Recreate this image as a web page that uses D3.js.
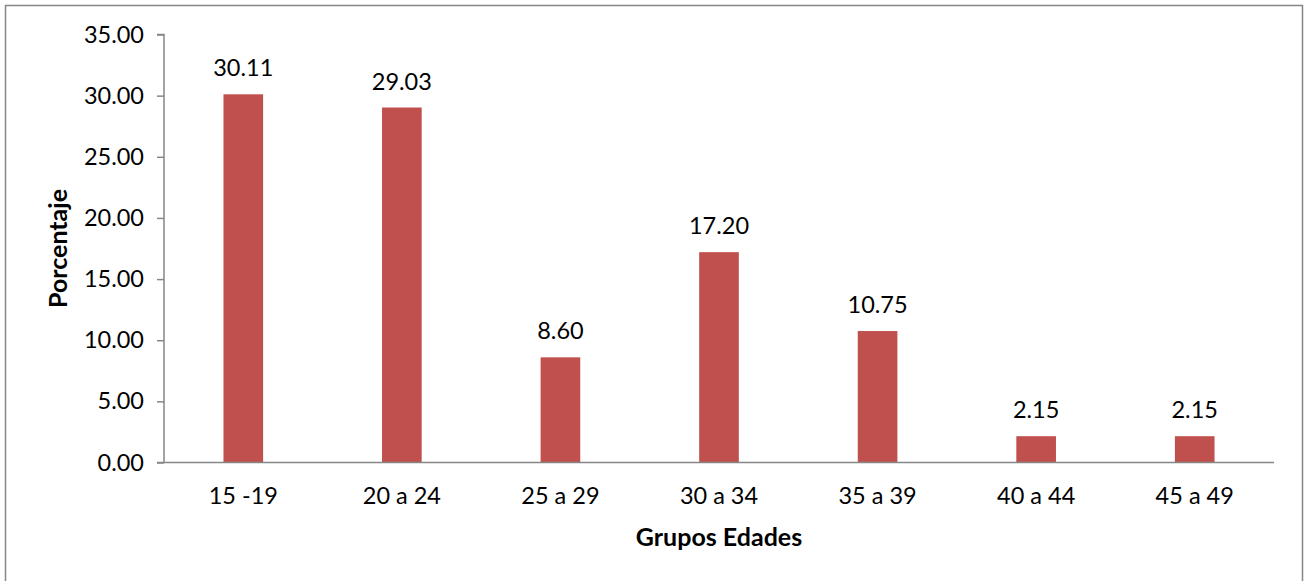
<!DOCTYPE html>
<html>
<head>
<meta charset="utf-8">
<script src="https://cdn.jsdelivr.net/npm/d3@7"></script>
<style>
  html, body { margin: 0; padding: 0; background: #fff; }
  svg { display: block; }
  text { font-family: Lato, "Open Sans", sans-serif; fill: #000; }
</style>
</head>
<body>
<svg id="chart" width="1307" height="581"></svg>
<script>
// Distribución porcentual por grupos de edad
const categories = ["15 -19", "20 a 24", "25 a 29", "30 a 34", "35 a 39", "40 a 44", "45 a 49"];
const values = [30.11, 29.03, 8.60, 17.20, 10.75, 2.15, 2.15];
const yTicks = [0, 5, 10, 15, 20, 25, 30, 35];
const xTitle = "Grupos Edades";
const yTitle = "Porcentaje";

const svg = d3.select("#chart");
const W = 1307, H = 581;
const plot = { left: 164, right: 1274, top: 34.5, bottom: 462.5 };
const fontSize = 23.5;
const titleSize = 25;

// outer frame (runs past the bottom edge)
svg.append("rect")
  .attr("x", 5.5).attr("y", 5.5)
  .attr("width", W - 10).attr("height", H + 10)
  .attr("fill", "#fff").attr("stroke", "#868686").attr("stroke-width", 1.5);

const x = d3.scaleBand().domain(categories).range([plot.left, plot.right]).paddingInner(0).paddingOuter(0);
const y = d3.scaleLinear().domain([0, 35]).range([plot.bottom, plot.top]);

const barW = x.bandwidth() * 0.25;

// bars
svg.append("g").selectAll("rect").data(values).join("rect")
  .attr("x", (d, i) => x(categories[i]) + x.bandwidth() / 2 - barW / 2)
  .attr("y", d => y(d))
  .attr("width", barW)
  .attr("height", d => y(0) - y(d))
  .attr("fill", "#C0504D");

// value labels
svg.append("g").selectAll("text").data(values).join("text")
  .attr("x", (d, i) => x(categories[i]) + x.bandwidth() / 2)
  .attr("y", d => y(d) - 18)
  .attr("text-anchor", "middle")
  .attr("font-size", fontSize)
  .text(d => d.toFixed(2));

// y axis
const yAxis = d3.axisLeft(y).tickValues(yTicks).tickFormat(d => d.toFixed(2)).tickSize(7).tickPadding(13);
const gy = svg.append("g").attr("transform", `translate(${plot.left},0)`).call(yAxis);
gy.select(".domain").attr("stroke", "#868686").attr("stroke-width", 1.5).attr("d", `M-7,${plot.top}H0V${plot.bottom}`);
gy.selectAll(".tick line").attr("stroke", "#868686").attr("stroke-width", 1.5);
gy.selectAll(".tick text").attr("font-size", fontSize).attr("font-family", "Lato, sans-serif").attr("fill", "#000");

// x axis
const xAxis = d3.axisBottom(x).tickSize(0).tickPadding(25);
const gx = svg.append("g").attr("transform", `translate(0,${plot.bottom})`).call(xAxis);
gx.select(".domain").attr("stroke", "#868686").attr("stroke-width", 1.5).attr("d", `M${plot.left - 7},0H${plot.right}`);
gx.selectAll(".tick text").attr("font-size", fontSize).attr("font-family", "Lato, sans-serif").attr("fill", "#000");

// axis titles
svg.append("text")
  .attr("x", (plot.left + plot.right) / 2).attr("y", 546)
  .attr("text-anchor", "middle").attr("font-size", titleSize).attr("font-weight", "bold")
  .text(xTitle);

svg.append("text")
  .attr("transform", `translate(67,${(plot.top + plot.bottom) / 2}) rotate(-90)`)
  .attr("text-anchor", "middle").attr("font-size", titleSize).attr("font-weight", "bold")
  .text(yTitle);
</script>
</body>
</html>
